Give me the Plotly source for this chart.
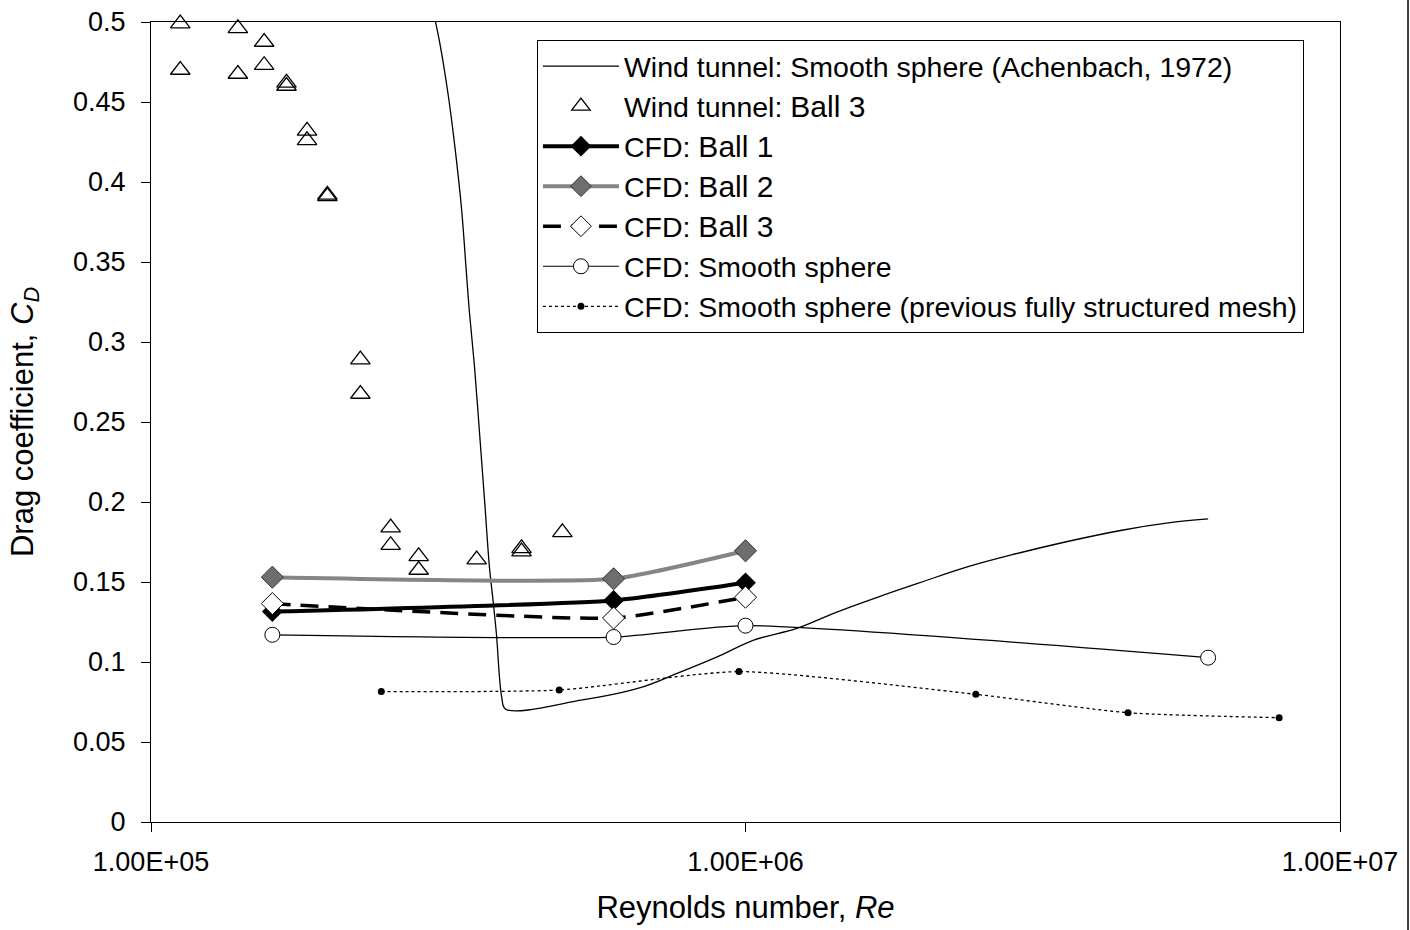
import plotly.graph_objects as go

# ---------------- data ----------------
# Wind tunnel: smooth sphere (Achenbach, 1972)
ach_re = [2.97e5, 3.06e5, 3.16e5, 3.24e5, 3.33e5, 3.39e5, 3.43e5, 3.50e5, 3.57e5,
          3.64e5, 3.71e5, 3.76e5, 3.81e5, 3.89e5, 3.95e5, 5.32e5, 6.63e5, 7.69e5,
          8.94e5, 1.035e6, 1.22e6, 1.41e6, 1.67e6, 1.98e6, 2.36e6, 2.80e6, 3.45e6,
          4.32e6, 5.14e6, 6.0e6]
ach_cd = [0.510, 0.487, 0.455, 0.424, 0.383, 0.345, 0.320, 0.285, 0.243,
          0.201, 0.159, 0.139, 0.118, 0.078, 0.0705, 0.0763, 0.0838, 0.093,
          0.103, 0.1138, 0.121, 0.1306, 0.1406, 0.150, 0.1594, 0.1669, 0.175,
          0.1825, 0.1869, 0.1894]

# Wind tunnel: Ball 3 (triangles)
wt3_re = [1.12e5, 1.12e5, 1.40e5, 1.40e5, 1.55e5, 1.55e5, 1.69e5, 1.69e5,
          1.83e5, 1.83e5, 1.98e5, 1.98e5, 2.25e5, 2.25e5, 2.53e5, 2.53e5,
          2.82e5, 2.82e5, 3.53e5, 4.20e5, 4.20e5, 4.92e5]
wt3_cd = [0.499, 0.470, 0.496, 0.4675, 0.4875, 0.473, 0.462, 0.460,
          0.432, 0.426, 0.392, 0.391, 0.289, 0.2675, 0.184, 0.173,
          0.166, 0.1575, 0.164, 0.171, 0.169, 0.181]

# CFD balls
cfd_re = [1.6e5, 6.0e5, 1.0e6]
ball1_cd = [0.1315, 0.1385, 0.1495]
ball2_cd = [0.153, 0.152, 0.1695]
ball3_cd = [0.1365, 0.1275, 0.1405]

# CFD smooth sphere
sm_re = [1.6e5, 6.0e5, 1.0e6, 6.0e6]
sm_cd = [0.117, 0.1156, 0.1227, 0.1027]

# CFD smooth sphere (previous fully structured mesh)
st_re = [2.44e5, 4.86e5, 9.75e5, 2.44e6, 4.4e6, 7.9e6]
st_cd = [0.0815, 0.0825, 0.094, 0.0798, 0.0683, 0.0652]

x_tickvals = [1e5, 1e6, 1e7]
x_ticktext = ["1.00E+05", "1.00E+06", "1.00E+07"]

FONT = "Liberation Sans, Arial, sans-serif"
big = "<span style='font-size:30px'>{}</span>"

fig = go.Figure()

fig.add_trace(go.Scatter(
    x=ach_re, y=ach_cd, mode="lines",
    name="Wind tunnel: Smooth sphere (Achenbach, 1972)",
    line=dict(color="black", width=1.3, shape="spline", smoothing=1.0),
    legendgroup="a"))

fig.add_trace(go.Scatter(
    x=wt3_re, y=wt3_cd, mode="markers",
    name="Wind tunnel: " + big.format("Ball 3"),
    marker=dict(symbol="triangle-up-open", size=17, color="black",
                line=dict(width=1.3)),
    cliponaxis=False, legendgroup="b"))

fig.add_trace(go.Scatter(
    x=cfd_re, y=ball1_cd, mode="lines+markers",
    name="CFD: " + big.format("Ball 1"),
    line=dict(color="black", width=4, shape="spline", smoothing=0.5),
    marker=dict(symbol="diamond", size=16, color="black"),
    legendgroup="c"))

fig.add_trace(go.Scatter(
    x=cfd_re, y=ball2_cd, mode="lines+markers",
    name="CFD: " + big.format("Ball 2"),
    line=dict(color="#858585", width=4, shape="spline", smoothing=0.5),
    marker=dict(symbol="diamond", size=17, color="#6e6e6e",
                line=dict(color="#333333", width=1)),
    legendgroup="d"))

fig.add_trace(go.Scatter(
    x=cfd_re, y=ball3_cd, mode="lines+markers",
    name="CFD: " + big.format("Ball 3"),
    line=dict(color="black", width=3.5, shape="spline", smoothing=0.5,
              dash="18px,10px"),
    marker=dict(symbol="diamond", size=17, color="white",
                line=dict(color="black", width=1)),
    legendgroup="e"))

fig.add_trace(go.Scatter(
    x=sm_re, y=sm_cd, mode="lines+markers",
    name="CFD: Smooth sphere",
    line=dict(color="black", width=1.2, shape="spline", smoothing=0.6),
    marker=dict(symbol="circle", size=15, color="white",
                line=dict(color="black", width=1)),
    legendgroup="f"))

fig.add_trace(go.Scatter(
    x=st_re, y=st_cd, mode="lines+markers",
    name="CFD: Smooth sphere (previous fully structured mesh)",
    line=dict(color="black", width=1.3, shape="spline", smoothing=0.6,
              dash="dot"),
    marker=dict(symbol="circle", size=7, color="black"),
    legendgroup="g"))

fig.update_layout(
    width=1410, height=930,
    margin=dict(l=151, r=70, t=22, b=108, autoexpand=False),
    paper_bgcolor="white", plot_bgcolor="white",
    font=dict(family=FONT, size=27, color="black"),
    showlegend=True,
    legend=dict(x=0.3246, y=0.9775, xanchor="left", yanchor="top",
                bordercolor="black", borderwidth=1, bgcolor="white",
                font=dict(size=28.5, family=FONT), itemwidth=76,
                tracegroupgap=0),
    xaxis=dict(type="log", range=[5, 7], tickvals=x_tickvals,
               ticktext=x_ticktext, ticks="outside", ticklen=9,
               tickcolor="black", showgrid=False, zeroline=False,
               showline=True, linecolor="black", linewidth=1.2, mirror=True,
               tickfont=dict(size=27), ticklabelstandoff=6, automargin=False,
               title=dict(text="Reynolds number, <i>Re</i>",
                          font=dict(size=31), standoff=20)),
    yaxis=dict(range=[0, 0.5], dtick=0.05, ticks="outside", ticklen=9,
               tickcolor="black", showgrid=False, zeroline=False,
               showline=True, linecolor="black", linewidth=1.2, mirror=True,
               tickfont=dict(size=27), ticklabelstandoff=10, automargin=False,
               title=dict(text="Drag coefficient, <i>C</i><sub><i>D</i></sub>",
                          font=dict(size=31), standoff=30)),
)

# outer chart-area border on the right
fig.add_shape(type="line", xref="paper", yref="paper",
              x0=1.0572, x1=1.0572, y0=-0.135, y1=1.0275,
              line=dict(color="black", width=1.5))

fig.write_html("out.html")
